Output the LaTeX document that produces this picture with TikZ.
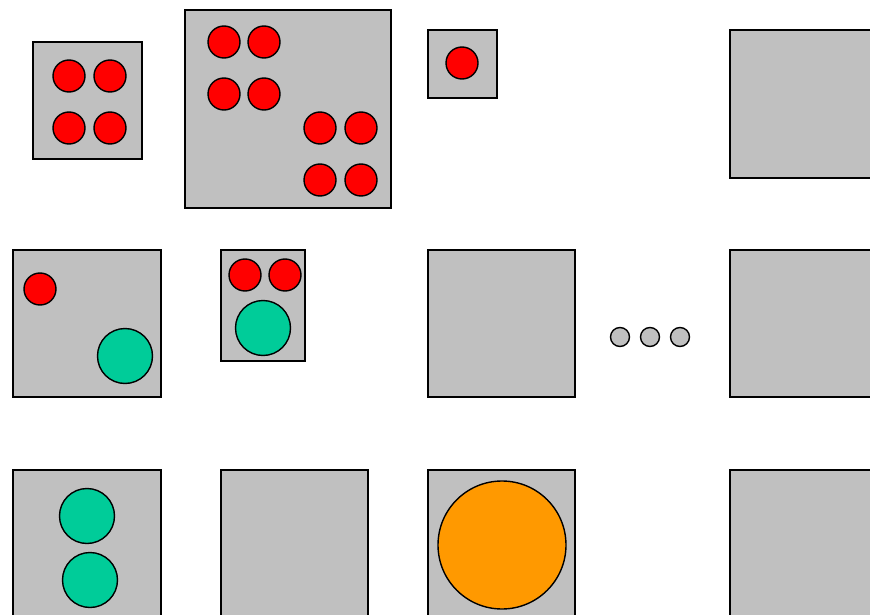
\documentclass[tikz,border=0pt]{standalone}
\usepackage{xcolor}
\usepackage{tikz}
\usetikzlibrary{positioning, calc}

\definecolor{boxgray}{HTML}{C0C0C0}
\definecolor{ballred}{HTML}{FF0000}
\definecolor{ballgreen}{HTML}{00CC99}
\definecolor{ballorange}{HTML}{FF9900}

\tikzset{
  bin/.style={draw, fill=boxgray, line width=1.4pt},
  red ball/.style={circle, draw, fill=ballred, line width=1.4pt, minimum size=32pt, inner sep=0pt},
  green ball/.style={circle, draw, fill=ballgreen, line width=1.4pt, minimum size=55pt, inner sep=0pt},
  big ball/.style={circle, draw, fill=ballorange, line width=1.4pt, minimum size=128pt, inner sep=0pt},
  dot ball/.style={circle, draw, fill=boxgray, line width=1.4pt, minimum size=19pt, inner sep=0pt}
}

\begin{document}
\begin{tikzpicture}[x=1pt, y=-1pt]
  \useasboundingbox (0,0) rectangle (870,615);
  \clip (0,0) rectangle (870,615);

  % top row
  \draw[bin] (33,42) rectangle (142,159);
  \foreach \x in {69,110}{
    \foreach \y in {76,128}{
      \node[red ball] (a-\x-\y) at (\x,\y) {};
    }
  }
  \draw[bin] (185,10) rectangle (391,208);
  \foreach \x in {224,264}{
    \foreach \y in {42,94}{
      \node[red ball] (b-\x-\y) at (\x,\y) {};
    }
  }
  \foreach \x in {320,361}{
    \foreach \y in {128,180}{
      \node[red ball] (b-\x-\y) at (\x,\y) {};
    }
  }
  \draw[bin] (428,30) rectangle (497,98);
  \node[red ball] (c1) at (462,63) {};
  \draw[bin] (730,30) rectangle (890,178);

  % middle row
  \draw[bin] (13,250) rectangle (161,397);
  \node[red ball] (d1) at (40,289) {};
  \node[green ball] (d2) at (125,356) {};
  \draw[bin] (221,250) rectangle (305,361);
  \node[red ball] (e1) at (245,275) {};
  \node[red ball] (e2) at (285,275) {};
  \node[green ball] (e3) at (263,328) {};
  \draw[bin] (428,250) rectangle (575,397);
  \foreach \x in {620,650,680}{
    \node[dot ball] (dots-\x) at (\x,337) {};
  }
  \draw[bin] (730,250) rectangle (890,397);

  % bottom row
  \draw[bin] (13,470) rectangle (161,640);
  \node[green ball] (g1) at (87,516) {};
  \node[green ball] (g2) at (90,580) {};
  \draw[bin] (221,470) rectangle (368,640);
  \draw[bin] (428,470) rectangle (575,640);
  \node[big ball] (h1) at (502,545) {};
  \draw[bin] (730,470) rectangle (890,640);
\end{tikzpicture}
\end{document}
